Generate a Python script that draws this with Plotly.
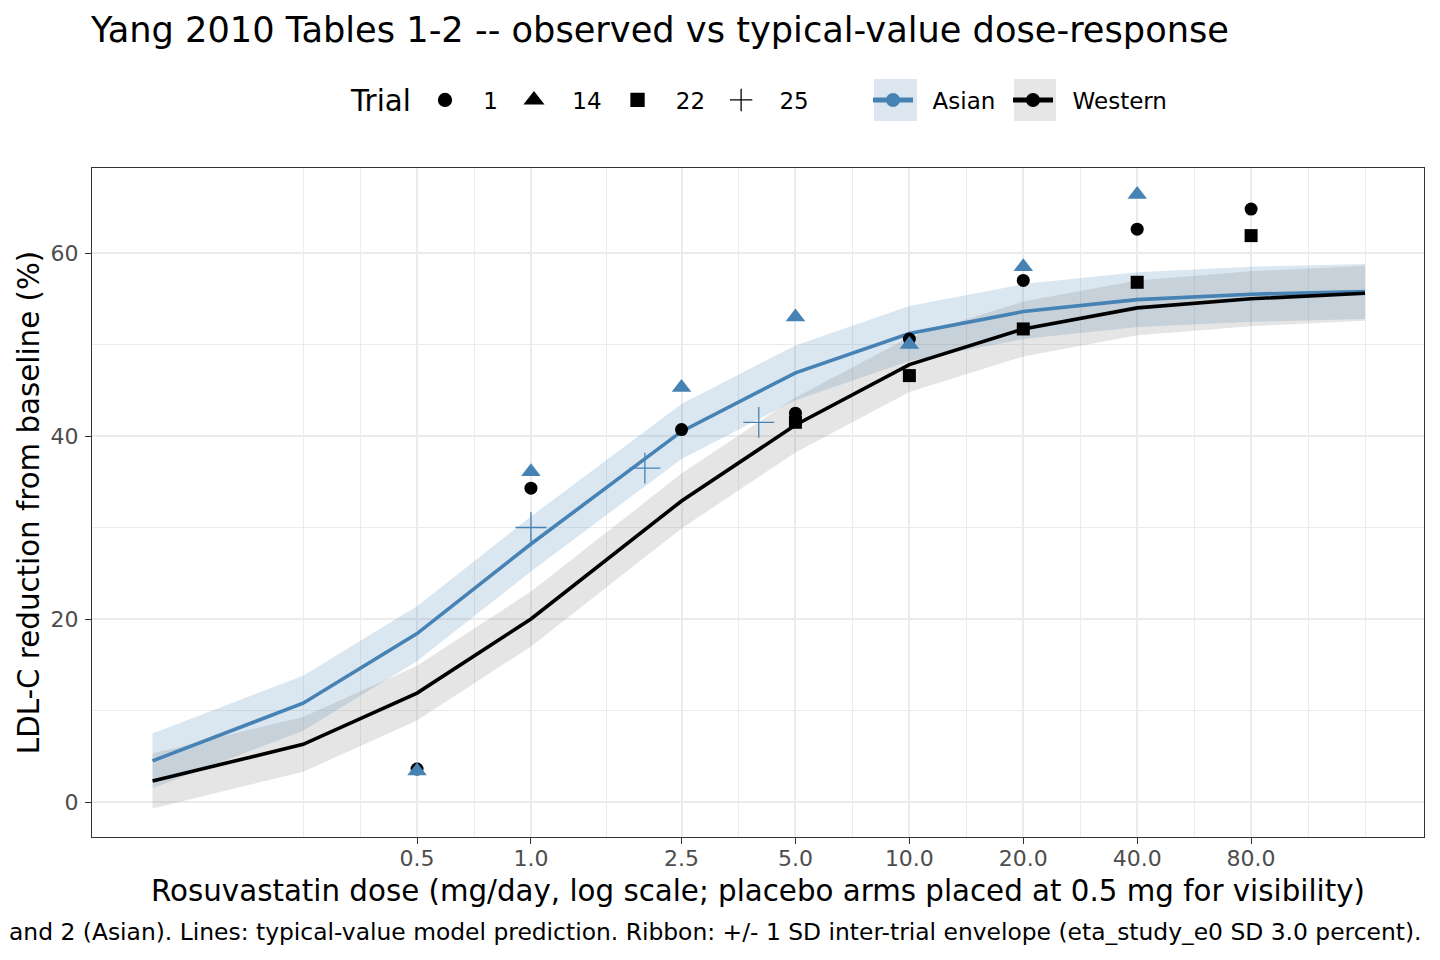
import plotly.graph_objects as go

# ---- data ----
grid_dose = [0.1, 0.25, 0.5, 1, 2.5, 5, 10, 20, 40, 80, 160]
asian_pred = [4.5, 10.8, 18.4, 28.2, 40.5, 46.9, 51.2, 53.6, 54.9, 55.5, 55.8]
western_pred = [2.3, 6.3, 11.9, 20.0, 32.9, 41.2, 47.8, 51.7, 54.0, 55.0, 55.6]
ribbon_sd = 3.0

trial1_dose = [0.5, 1, 2.5, 5, 10, 20, 40, 80]
trial1_resp = [3.6, 34.3, 40.7, 42.5, 50.6, 57.0, 62.6, 64.8]
trial14_dose = [0.5, 1, 2.5, 5, 10, 20, 40]
trial14_resp = [3.4, 36.1, 45.3, 53.0, 50.0, 58.5, 66.4]
trial22_dose = [5, 10, 20, 40, 80]
trial22_resp = [41.5, 46.6, 51.7, 56.8, 61.9]
trial25_dose = [1, 2, 4]
trial25_resp = [30.0, 36.5, 41.5]

x_major = [0.5, 1.0, 2.5, 5.0, 10.0, 20.0, 40.0, 80.0]
x_major_labels = ["0.5", "1.0", "2.5", "5.0", "10.0", "20.0", "40.0", "80.0"]
x_minor = [0.25, 0.3536, 0.7071, 1.5811, 3.5355, 7.0711, 14.142, 28.284, 56.569, 113.14, 160]
y_major = [0, 20, 40, 60]
y_minor = [10, 30, 50]

BLUE = "#4682B4"
BLUE_FILL = "rgba(70,130,180,0.2)"
GREY_FILL = "rgba(127,127,127,0.2)"
FONT = "DejaVu Sans"
NB = "\u00a0"

# plot-area geometry (px) for paper-coordinate conversions
L, R, T, B = 92, 1424, 168, 837
def px(x):
    return (x - L) / (R - L)
def py(y):
    return (B - y) / (B - T)

fig = go.Figure()

def ribbon(pred, fill):
    lo = [p - ribbon_sd for p in pred]
    hi = [p + ribbon_sd for p in pred]
    fig.add_trace(go.Scatter(x=grid_dose, y=lo, mode="lines", line=dict(width=0),
                             showlegend=False, hoverinfo="skip"))
    fig.add_trace(go.Scatter(x=grid_dose, y=hi, mode="lines", line=dict(width=0),
                             fill="tonexty", fillcolor=fill, showlegend=False, hoverinfo="skip"))

ribbon(asian_pred, BLUE_FILL)
ribbon(western_pred, GREY_FILL)

fig.add_trace(go.Scatter(x=grid_dose, y=asian_pred, mode="lines",
                         line=dict(color=BLUE, width=3.6), showlegend=False))
fig.add_trace(go.Scatter(x=grid_dose, y=western_pred, mode="lines",
                         line=dict(color="black", width=3.6), showlegend=False))

# observed points
fig.add_trace(go.Scatter(x=trial1_dose, y=trial1_resp, mode="markers",
                         marker=dict(symbol="circle", size=13, color="black"), showlegend=False))
fig.add_trace(go.Scatter(x=trial14_dose, y=trial14_resp, mode="markers",
                         marker=dict(symbol="triangle-up", size=17, color=BLUE), showlegend=False))
fig.add_trace(go.Scatter(x=trial22_dose, y=trial22_resp, mode="markers",
                         marker=dict(symbol="square", size=13, color="black"), showlegend=False))
fig.add_trace(go.Scatter(x=trial25_dose, y=trial25_resp, mode="markers",
                         marker=dict(symbol="cross-thin", size=22, color=BLUE,
                                     line=dict(color=BLUE, width=1.3)), showlegend=False))

# legend: trial shapes
for name, sym, sz in [("1", "circle", 13), ("14", "triangle-up", 17), ("22", "square", 13), ("25", "cross-thin", 22)]:
    fig.add_trace(go.Scatter(x=[None], y=[None], mode="markers", name=NB + name, legend="legend",
                             marker=dict(symbol=sym, size=sz, color="black",
                                         line=dict(color="black", width=1.3))))

# legend: population (one legend each, so each key sits on its own background box)
fig.add_trace(go.Scatter(x=[None], y=[None], mode="lines+markers", name=NB * 2 + "Asian", legend="legend2",
                         line=dict(color=BLUE, width=5), marker=dict(color=BLUE, size=14)))
fig.add_trace(go.Scatter(x=[None], y=[None], mode="lines+markers", name=NB * 2 + "Western", legend="legend3",
                         line=dict(color="black", width=5), marker=dict(color="black", size=14)))

key_boxes = [
    dict(type="rect", xref="paper", yref="paper", x0=px(874), x1=px(917), y0=py(121), y1=py(79),
         fillcolor="rgb(220,230,240)", line=dict(width=0), layer="below"),
    dict(type="rect", xref="paper", yref="paper", x0=px(1014), x1=px(1056), y0=py(121), y1=py(79),
         fillcolor="rgb(230,230,230)", line=dict(width=0), layer="below"),
]

leg_common = dict(orientation="h", yanchor="middle", y=py(100), font=dict(size=23),
                  bgcolor="rgba(0,0,0,0)", traceorder="normal")

fig.update_layout(
    width=1440, height=960,
    margin=dict(l=L, r=1440 - R, t=T, b=960 - B),
    paper_bgcolor="white", plot_bgcolor="white",
    font=dict(family=FONT, color="black"),
    title=dict(text="Yang 2010 Tables 1-2 -- observed vs typical-value dose-response",
               x=91/1440, xanchor="left", y=1 - 30/960, yanchor="middle",
               font=dict(size=35.2, color="black")),
    legend=dict(x=px(414), xanchor="left", itemwidth=52, **leg_common),
    legend2=dict(x=px(868), xanchor="left", itemwidth=40, **leg_common),
    legend3=dict(x=px(1008), xanchor="left", itemwidth=40, **leg_common),
    shapes=key_boxes,
    xaxis=dict(type="log", range=[-1.160, 2.360],
               tickvals=x_major, ticktext=x_major_labels,
               ticks="outside", ticklen=6, tickcolor="#333333", tickwidth=1.2,
               tickfont=dict(size=22, color="#4d4d4d"), ticklabelstandoff=-4,
               showgrid=True, gridcolor="#ebebeb", gridwidth=1.8,
               minor=dict(tickvals=x_minor, showgrid=True, gridcolor="#ebebeb", gridwidth=0.9, ticks=""),
               showline=True, linecolor="#333333", linewidth=1, mirror=True, zeroline=False,
               title=dict(text="Rosuvastatin dose (mg/day, log scale; placebo arms placed at 0.5 mg for visibility)",
                          font=dict(size=29.3), standoff=10)),
    yaxis=dict(range=[-3.825, 69.29],
               tickvals=y_major, ticks="outside", ticklen=6, tickcolor="#333333", tickwidth=1.2,
               tickfont=dict(size=22, color="#4d4d4d"), ticklabelstandoff=2,
               showgrid=True, gridcolor="#ebebeb", gridwidth=1.8,
               minor=dict(tickvals=y_minor, showgrid=True, gridcolor="#ebebeb", gridwidth=0.9, ticks=""),
               showline=True, linecolor="#333333", linewidth=1, mirror=True, zeroline=False,
               title=dict(text="LDL-C reduction from baseline (%)", font=dict(size=29.3), standoff=2)),
    annotations=[
        dict(text="Trial", xref="paper", yref="paper", x=px(348), y=py(101), xanchor="left", yanchor="middle",
             showarrow=False, font=dict(size=29.3, color="black")),
        dict(text="and 2 (Asian). Lines: typical-value model prediction. Ribbon: +/- 1 SD inter-trial envelope (eta_study_e0 SD 3.0 percent).",
             xref="paper", yref="paper", x=1.0, y=py(932), xanchor="right", yanchor="middle",
             showarrow=False, font=dict(size=23.4, color="black")),
    ],
)

fig.write_html("out.html")
